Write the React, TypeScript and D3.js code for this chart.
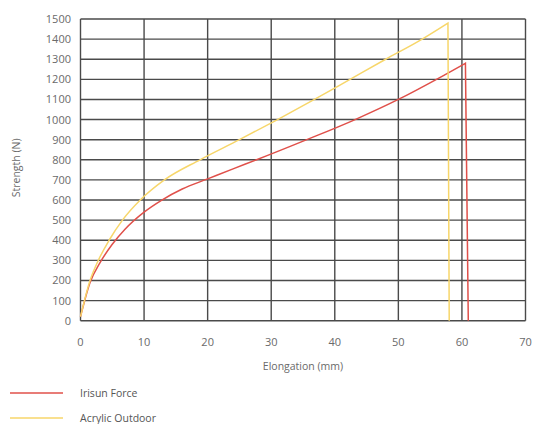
import React from "react";
import * as d3 from "d3";

const xTicks = [0, 10, 20, 30, 40, 50, 60, 70];
const yTicks = [0, 100, 200, 300, 400, 500, 600, 700, 800, 900, 1000, 1100, 1200, 1300, 1400, 1500];

const irisunX = [0, 1.5, 3.1, 5, 7, 10, 12.8, 16, 20, 24, 27.7, 35.6, 43.2, 50, 56, 60.55, 61.0];
const irisunY = [20, 190, 290, 380, 455, 540, 600, 655, 705, 755, 800, 900, 1000, 1100, 1200, 1280, 0];

const acrylicX = [0, 1.5, 2.8, 4.5, 6.6, 9.4, 13.2, 18.8, 25, 31, 36.8, 42.4, 48, 53.2, 57.8, 58.0];
const acrylicY = [20, 200, 300, 400, 500, 600, 700, 800, 900, 1000, 1100, 1200, 1300, 1390, 1480, 0];

const seriesNames = ["Irisun Force", "Acrylic Outdoor"];
const seriesColors = ["#e0504a", "#f7d66a"];

export default function App() {
  const W = 535, H = 424;
  const x = d3.scaleLinear().domain([0, 70]).range([80.5, 525.5]);
  const y = d3.scaleLinear().domain([0, 1500]).range([320.7, 19]);
  const smooth = d3.line<[number, number]>().x(d => x(d[0])).y(d => y(d[1])).curve(d3.curveMonotoneX);
  const series = [
    irisunX.map((v, i) => [v, irisunY[i]] as [number, number]),
    acrylicX.map((v, i) => [v, acrylicY[i]] as [number, number]),
  ];
  const pathFor = (s: [number, number][]) => {
    const rise = s.slice(0, s.length - 1);
    const drop = s[s.length - 1];
    return (smooth(rise) || "") + `L${x(drop[0])},${y(drop[1])}`;
  };
  const font = "'Open Sans', sans-serif";
  const gridColor = "#4a4a4a";
  return (
    <svg width={W} height={H} style={{ position: "absolute", left: 0, top: 0, background: "#fff" }} fontFamily={font}>
      {yTicks.map(t => (
        <line key={"h" + t} x1={x(0)} x2={x(70)} y1={y(t)} y2={y(t)} stroke={gridColor} strokeWidth={1.4} />
      ))}
      {xTicks.map(t => (
        <line key={"v" + t} x1={x(t)} x2={x(t)} y1={y(0)} y2={y(1500)} stroke={gridColor} strokeWidth={1.4} />
      ))}
      {yTicks.map(t => (
        <text key={"yt" + t} x={71} y={y(t) + 4} textAnchor="end" fontSize={11} fill="#6a6a6a">{t}</text>
      ))}
      {xTicks.map(t => (
        <text key={"xt" + t} x={x(t)} y={346} textAnchor="middle" fontSize={11} fill="#6a6a6a">{t}</text>
      ))}
      <text x={303} y={370} textAnchor="middle" fontSize={10.5} fill="#6a6a6a">Elongation (mm)</text>
      <text transform={`translate(20,${y(760)}) rotate(-90)`} textAnchor="middle" fontSize={10.5} fill="#6a6a6a">Strength (N)</text>
      {series.map((s, i) => (
        <path key={"s" + i} d={pathFor(s)} fill="none" stroke={seriesColors[i]} strokeWidth={1.5} />
      ))}
      {seriesNames.map((n, i) => (
        <g key={"lg" + i}>
          <line x1={10} x2={63} y1={393 + i * 25} y2={393 + i * 25} stroke={seriesColors[i]} strokeWidth={1.5} />
          <text x={80} y={397 + i * 25} fontSize={10.5} fill="#555">{n}</text>
        </g>
      ))}
    </svg>
  );
}
